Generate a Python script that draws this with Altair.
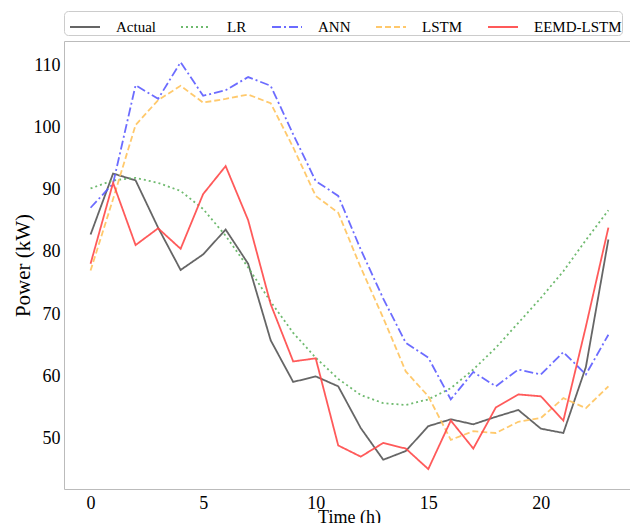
import altair as alt
import pandas as pd

hours = list(range(24))
actual = [82.8, 92.6, 91.5, 83.9, 77.1, 79.6, 83.6, 78.1, 65.8, 59.1, 60.0, 58.4,
          51.7, 46.6, 48.0, 52.0, 53.1, 52.3, 53.5, 54.6, 51.6, 50.9, 61.5, 82.0]
lr = [90.2, 91.5, 91.9, 91.1, 89.8, 86.9, 82.6, 77.5, 72.0, 67.0, 63.0, 59.6,
      57.0, 55.7, 55.4, 56.3, 58.1, 61.1, 64.6, 68.6, 72.6, 76.9, 81.9, 86.7]
ann = [87.1, 91.0, 106.8, 104.6, 110.5, 105.1, 106.0, 108.1, 106.7, 98.9, 91.4, 89.0,
       80.4, 72.5, 65.4, 63.0, 56.3, 60.7, 58.4, 61.1, 60.3, 63.9, 60.3, 66.7]
lstm = [77.0, 88.5, 100.4, 104.4, 106.7, 104.0, 104.6, 105.3, 103.9, 96.8, 89.0, 86.3,
        77.5, 69.4, 60.8, 56.8, 49.8, 51.2, 50.9, 52.7, 53.3, 56.5, 54.9, 58.4]
eemd = [78.1, 91.1, 81.1, 83.8, 80.5, 89.3, 93.8, 85.1, 71.6, 62.4, 62.9, 48.9,
        47.1, 49.3, 48.4, 45.1, 52.9, 48.4, 55.0, 57.1, 56.8, 52.9, 68.0, 83.9]

models = ["Actual", "LR", "ANN", "LSTM", "EEMD-LSTM"]
colors = ["#555555", "#5fb35f", "#5c5cff", "#ffc35c", "#ff4848"]
dashes = [[1, 0], [2, 3], [9, 3, 2, 3], [6, 3], [1, 0]]
x_ticks = [0, 5, 10, 15, 20]
y_ticks = [50, 60, 70, 80, 90, 100, 110]

rows = []
for m, series in zip(models, [actual, lr, ann, lstm, eemd]):
    for h, v in zip(hours, series):
        rows.append({"Time": h, "Power": v, "Model": m})
df = pd.DataFrame(rows)

FONT = "Liberation Serif"
W, H = 566, 448

legend = alt.Legend(
    title=None, orient="none", legendX=0, legendY=-30, direction="horizontal",
    columns=5, symbolType="stroke", symbolSize=900, symbolStrokeWidth=2,
    symbolOffset=5,
    labelFont=FONT, labelFontSize=15, labelColor="#000000", labelOffset=15,
    columnPadding=19, padding=0, strokeColor="#cccccc", cornerRadius=4,
    fillColor="#ffffff", labelLimit=300,
)

chart = alt.Chart(df).mark_line(strokeWidth=1.8, opacity=0.9).encode(
    x=alt.X("Time:Q",
            scale=alt.Scale(domain=[-1.18, 23.96], nice=False, zero=False),
            axis=alt.Axis(title="Time (h)", values=x_ticks, format="d",
                          labelPadding=5, titleFontSize=18,
                          titleX=285, titleY=28, titleBaseline="middle",
                          titleAlign="center")),
    y=alt.Y("Power:Q",
            scale=alt.Scale(domain=[41.9, 113.9], nice=False, zero=False),
            axis=alt.Axis(title="Power (kW)", values=y_ticks, format="d",
                          labelPadding=4, titleFontSize=21,
                          titleX=-41, titleY=H / 2, titleBaseline="middle",
                          titleAlign="center", titleAngle=270)),
    color=alt.Color("Model:N", scale=alt.Scale(domain=models, range=colors), legend=legend),
    strokeDash=alt.StrokeDash("Model:N", scale=alt.Scale(domain=models, range=dashes), legend=legend),
).properties(
    width=W, height=H,
    autosize=alt.AutoSizeParams(type="none"),
    padding={"left": 56, "top": 33, "right": 0, "bottom": 34},
).configure_view(
    stroke="#bbbbbb", strokeWidth=1
).configure_axis(
    grid=False, domain=False, ticks=False,
    labelFont=FONT, labelFontSize=18, labelColor="#000000",
    titleFont=FONT, titleFontWeight="normal", titleColor="#000000",
)

chart.save("out.html", embed_options={"renderer": "svg", "actions": False})
